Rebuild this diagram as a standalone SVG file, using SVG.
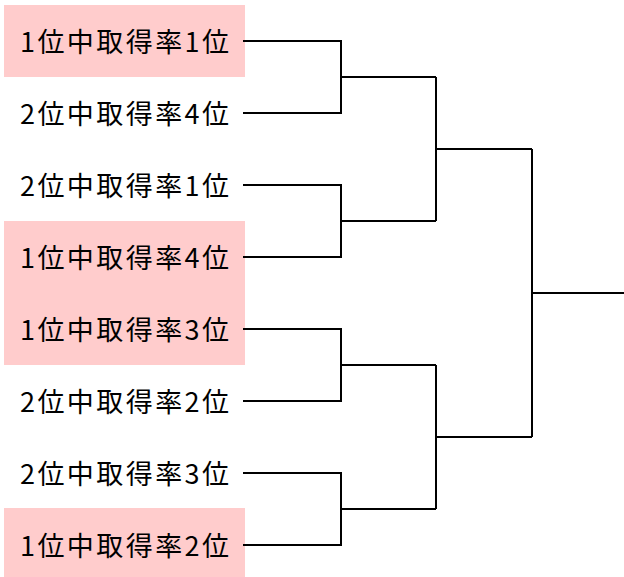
<svg xmlns="http://www.w3.org/2000/svg" width="624" height="577" viewBox="0 0 624 577">
<style>
.box{fill:#FFCCCC}
.lbl{font-family:"Noto Sans CJK JP","Noto Sans CJK SC",sans-serif;font-size:27px;fill:#000}
.ln{fill:none;stroke:#000;stroke-width:2}
</style>
<rect width="624" height="577" fill="#fff"/>
<g id="highlights">
<rect class="box" x="4" y="5" width="241" height="72"/>
<rect class="box" x="4" y="221" width="241" height="144"/>
<rect class="box" x="4" y="508" width="241" height="69"/>
</g>
<g id="n1"><text class="lbl" x="20" y="52" textLength="209" lengthAdjust="spacing">1位中取得率1位</text></g>
<g id="n2"><text class="lbl" x="20" y="124" textLength="209" lengthAdjust="spacing">2位中取得率4位</text></g>
<g id="n3"><text class="lbl" x="20" y="196" textLength="209" lengthAdjust="spacing">2位中取得率1位</text></g>
<g id="n4"><text class="lbl" x="20" y="268" textLength="209" lengthAdjust="spacing">1位中取得率4位</text></g>
<g id="n5"><text class="lbl" x="20" y="340" textLength="209" lengthAdjust="spacing">1位中取得率3位</text></g>
<g id="n6"><text class="lbl" x="20" y="412" textLength="209" lengthAdjust="spacing">2位中取得率2位</text></g>
<g id="n7"><text class="lbl" x="20" y="484" textLength="209" lengthAdjust="spacing">2位中取得率3位</text></g>
<g id="n8"><text class="lbl" x="20" y="556" textLength="209" lengthAdjust="spacing">1位中取得率2位</text></g>
<g id="connectors">
<path class="ln" d="M243 41H341V113H243M341 77H436"/>
<path class="ln" d="M243 185H341V257H243M341 221H436"/>
<path class="ln" d="M243 329H341V401H243M341 365H436"/>
<path class="ln" d="M243 473H341V545H243M341 509H436"/>
<path class="ln" d="M436 77V221M436 149H532"/>
<path class="ln" d="M436 365V509M436 437H532"/>
<path class="ln" d="M532 149V437M532 293H624"/>
</g>
</svg>
